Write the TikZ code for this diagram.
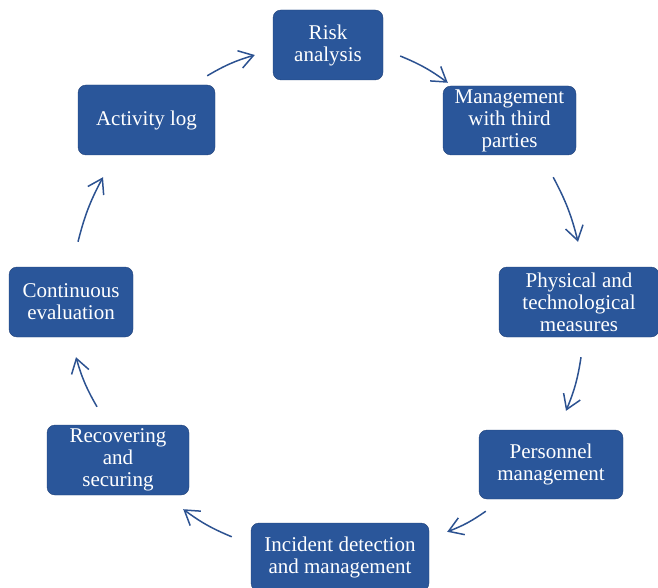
\documentclass[tikz,border=0pt]{standalone}
\usepackage{fontspec}
\setmainfont{Liberation Serif}
\usetikzlibrary{arrows.meta,calc}
\definecolor{boxblue}{RGB}{42,86,154}
\definecolor{boxline}{RGB}{33,66,120}
\definecolor{arrowblue}{RGB}{44,82,145}

\begin{document}
\begin{tikzpicture}[x=1pt,y=-1pt,
    stage/.style={draw=boxline,fill=boxblue,thin,rounded corners=8pt,
      text=white,align=center,inner sep=0pt,
      font=\fontsize{21pt}{22pt}\selectfont},
    cyclearrow/.style={draw=arrowblue,line width=1.5pt,
      -{Straight Barb[length=14pt,width=18pt,line width=1.5pt]},bend left=7}]
  \useasboundingbox (0,0) rectangle (658,588);
  \node[stage,minimum width=110pt,minimum height=70pt] (risk) at (328,45) {Risk\\analysis};
  \node[stage,minimum width=133pt,minimum height=69pt] (mgmt) at (509.5,120.5) {Management\\with third\\parties};
  \node[stage,minimum width=160pt,minimum height=70pt] (phys) at (579,302) {Physical and\\technological\\measures};
  \node[stage,minimum width=144pt,minimum height=69pt] (pers) at (551,464.5) {Personnel\\management};
  \node[stage,minimum width=178pt,minimum height=68pt] (inc) at (340,557) {Incident detection\\and management};
  \node[stage,minimum width=142pt,minimum height=70pt] (rec) at (118,460) {Recovering\\and\\securing};
  \node[stage,minimum width=124pt,minimum height=70pt] (cont) at (71,302) {Continuous\\evaluation};
  \node[stage,minimum width=137pt,minimum height=70pt] (act) at (146.5,120) {Activity log};
  % arrows round the cycle
  \draw[cyclearrow] ($(act.north east)+(-8,-9)$) to ($(risk.west)+(-18,10)$);
  \draw[cyclearrow] ($(risk.east)+(17,11)$) to ($(mgmt.north west)+(5,-3)$);
  \draw[cyclearrow] ($(mgmt.south east)+(-23,22)$) to ($(phys.north)+(-1,-25)$);
  \draw[cyclearrow] ($(phys.south)+(2,20)$) to ($(pers.north)+(15,-19)$);
  \draw[cyclearrow] ($(pers.south west)+(7,12)$) to ($(inc.north east)+(18,9)$);
  \draw[cyclearrow] ($(inc.north west)+(-19,14)$) to ($(rec.south east)+(-6,14)$);
  \draw[cyclearrow] ($(rec.north)+(-21,-18)$) to ($(cont.south)+(5,20)$);
  \draw[cyclearrow] ($(cont.north)+(7,-25)$) to ($(act.south)+(-43.5,22)$);
\end{tikzpicture}
\end{document}
